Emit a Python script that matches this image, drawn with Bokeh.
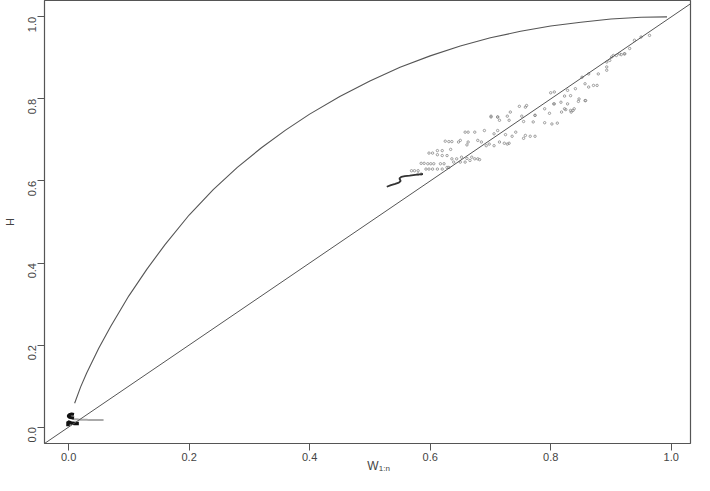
import math
from bokeh.plotting import figure
from bokeh.models import Range1d, FixedTicker, NumeralTickFormatter, Slope, LinearAxis
from bokeh.embed import file_html
from bokeh.resources import INLINE

# ---- data ----
x_ticks = [0.0, 0.2, 0.4, 0.6, 0.8, 1.0]
y_ticks = [0.0, 0.2, 0.4, 0.6, 0.8, 1.0]

curve_w = [0.010, 0.020, 0.030, 0.050, 0.070, 0.100, 0.130, 0.160, 0.200, 0.240,
           0.280, 0.320, 0.360, 0.400, 0.450, 0.500, 0.550, 0.600, 0.650, 0.700,
           0.750, 0.800, 0.850, 0.900, 0.950, 0.993]
curve_h = [0.058, 0.098, 0.132, 0.192, 0.246, 0.320, 0.385, 0.445, 0.517, 0.579,
           0.633, 0.681, 0.724, 0.763, 0.806, 0.844, 0.877, 0.905, 0.929, 0.949,
           0.965, 0.978, 0.987, 0.995, 0.999, 1.000]

point_w = [0.790, 0.798, 0.805, 0.818, 0.825, 0.834, 0.837, 0.828, 0.846, 0.858,
           0.790, 0.802, 0.811, 0.774, 0.771, 0.755, 0.752, 0.733, 0.731, 0.712,
           0.715, 0.701, 0.706, 0.712, 0.725, 0.736, 0.742, 0.758, 0.755, 0.766,
           0.774, 0.723, 0.728, 0.731, 0.715, 0.706, 0.698, 0.693, 0.685, 0.679,
           0.690, 0.674, 0.663, 0.658, 0.650, 0.647, 0.663, 0.661, 0.634, 0.625,
           0.631, 0.636, 0.620, 0.612, 0.604, 0.598, 0.612, 0.620, 0.628, 0.636,
           0.644, 0.652, 0.661, 0.669, 0.674, 0.679, 0.682, 0.666, 0.658, 0.650,
           0.639, 0.631, 0.628, 0.623, 0.617, 0.606, 0.601, 0.596, 0.590, 0.585,
           0.593, 0.598, 0.604, 0.612, 0.620, 0.580, 0.574, 0.569, 0.585, 0.580,
           0.893, 0.893, 0.893, 0.898, 0.904, 0.914, 0.922, 0.879, 0.863, 0.852,
           0.857, 0.871, 0.877, 0.863, 0.841, 0.828, 0.806, 0.800, 0.823, 0.833,
           0.847, 0.857, 0.817, 0.806, 0.839, 0.833, 0.758, 0.760, 0.748, 0.774,
           0.823, 0.701, 0.712, 0.728, 0.939, 0.950, 0.964, 0.931, 0.923, 0.917,
           0.909, 0.901]
point_h = [0.776, 0.765, 0.788, 0.768, 0.774, 0.768, 0.772, 0.788, 0.794, 0.796,
           0.742, 0.739, 0.741, 0.760, 0.744, 0.745, 0.758, 0.768, 0.748, 0.756,
           0.748, 0.758, 0.715, 0.723, 0.713, 0.709, 0.719, 0.711, 0.704, 0.709,
           0.709, 0.692, 0.690, 0.692, 0.695, 0.686, 0.690, 0.686, 0.695, 0.699,
           0.723, 0.719, 0.719, 0.719, 0.699, 0.695, 0.695, 0.688, 0.677, 0.697,
           0.696, 0.696, 0.674, 0.674, 0.668, 0.668, 0.664, 0.662, 0.662, 0.654,
           0.654, 0.658, 0.655, 0.658, 0.654, 0.654, 0.652, 0.650, 0.646, 0.646,
           0.646, 0.633, 0.633, 0.642, 0.642, 0.642, 0.642, 0.642, 0.643, 0.643,
           0.629, 0.629, 0.629, 0.629, 0.629, 0.625, 0.625, 0.625, 0.617, 0.617,
           0.890, 0.878, 0.870, 0.894, 0.906, 0.910, 0.910, 0.861, 0.861, 0.853,
           0.837, 0.833, 0.833, 0.829, 0.825, 0.821, 0.817, 0.815, 0.807, 0.808,
           0.800, 0.796, 0.792, 0.788, 0.776, 0.772, 0.780, 0.784, 0.782, 0.760,
           0.776, 0.756, 0.756, 0.758, 0.943, 0.951, 0.955, 0.923, 0.910, 0.908,
           0.906, 0.902]

squiggle_w = [0.528, 0.535, 0.542, 0.548, 0.551, 0.549, 0.552, 0.558, 0.566, 0.575, 0.583, 0.588]
squiggle_h = [0.586, 0.590, 0.593, 0.596, 0.600, 0.606, 0.610, 0.612, 0.613, 0.615, 0.616, 0.617]

ctop_w = [0.009, 0.005, 0.001, -0.001, 0.001, 0.005, 0.009]
ctop_h = [0.031, 0.032, 0.030, 0.027, 0.024, 0.023, 0.022]
clow_w = [-0.001, -0.001, 0.004, 0.010, 0.017]
clow_h = [0.002, 0.013, 0.010, 0.009, 0.009]
smear_w = [0.006, 0.010, 0.014, 0.018, 0.022, 0.026, 0.030, 0.034, 0.038, 0.042, 0.046, 0.050, 0.054, 0.058]
smear_h = [0.020, 0.019, 0.019, 0.018, 0.018, 0.018, 0.018, 0.017, 0.017, 0.017, 0.017, 0.017, 0.017, 0.017]

x_title_main = "W"
x_title_sub = "1:n"
x_title_main_pos = 0.505
x_title_sub_pos = 0.524
y_title = "H"

FONT = "Liberation Sans"
TXT = "#444444"
LINE = "#555555"

p = figure(width=694, height=475, output_backend="svg", toolbar_location=None,
           x_range=Range1d(-0.04, 1.032), y_range=Range1d(-0.04, 1.04),
           min_border_left=37, min_border_right=4, min_border_top=0, min_border_bottom=20)
p.grid.visible = False
p.outline_line_color = "#555555"
p.outline_line_width = 1.2
p.background_fill_color = "white"
p.border_fill_color = "white"

for ax in (p.xaxis[0], p.yaxis[0]):
    ax.axis_line_color = None
    ax.major_tick_out = 7
    ax.major_tick_in = 0
    ax.minor_tick_line_color = None
    ax.major_tick_line_color = "#555555"
    ax.major_label_text_font = FONT
    ax.major_label_text_font_size = "11px"
    ax.major_label_text_color = TXT
    ax.axis_label_text_font = FONT
    ax.axis_label_text_font_size = "11px"
    ax.axis_label_text_color = TXT
    ax.axis_label_text_font_style = "normal"
    ax.formatter = NumeralTickFormatter(format="0.0")

p.xaxis.ticker = FixedTicker(ticks=x_ticks)
p.yaxis.ticker = FixedTicker(ticks=y_ticks)
p.yaxis.major_label_orientation = math.pi / 2
p.yaxis.axis_label = y_title
p.yaxis.axis_label_standoff = 6
p.xaxis[0].major_label_standoff = 2


def title_axis(pos, text, size, standoff):
    ax = LinearAxis(ticker=FixedTicker(ticks=[pos]),
                    major_label_overrides={pos: text},
                    axis_line_color=None, major_tick_line_color=None,
                    major_tick_out=0, major_tick_in=0,
                    minor_tick_line_color=None,
                    major_label_standoff=standoff,
                    major_label_text_font=FONT,
                    major_label_text_font_size=size,
                    major_label_text_color=TXT)
    p.add_layout(ax, "below")


# x-axis title: W with subscript 1:n
title_axis(x_title_main_pos, x_title_main, "12px", -5)
title_axis(x_title_sub_pos, x_title_sub, "8px", -12)

# diagonal reference line y = x
p.add_layout(Slope(gradient=1, y_intercept=0, line_color=LINE, line_width=1))

# upper curve
p.line(curve_w, curve_h, line_color=LINE, line_width=1.1)

# scattered points
p.scatter(point_w, point_h, marker="circle", size=2.4, fill_color=None,
          line_color="#888888", line_width=0.8)

# dense squiggle
p.line(squiggle_w, squiggle_h, line_color="#333333", line_width=1.8)

# cluster near the origin
p.line(smear_w, smear_h, line_color="#aaaaaa", line_width=2)
p.line(ctop_w, ctop_h, line_color="#111111", line_width=3)
p.line(clow_w, clow_h, line_color="#111111", line_width=3.5)

open("out.html", "w").write(file_html(p, INLINE))
